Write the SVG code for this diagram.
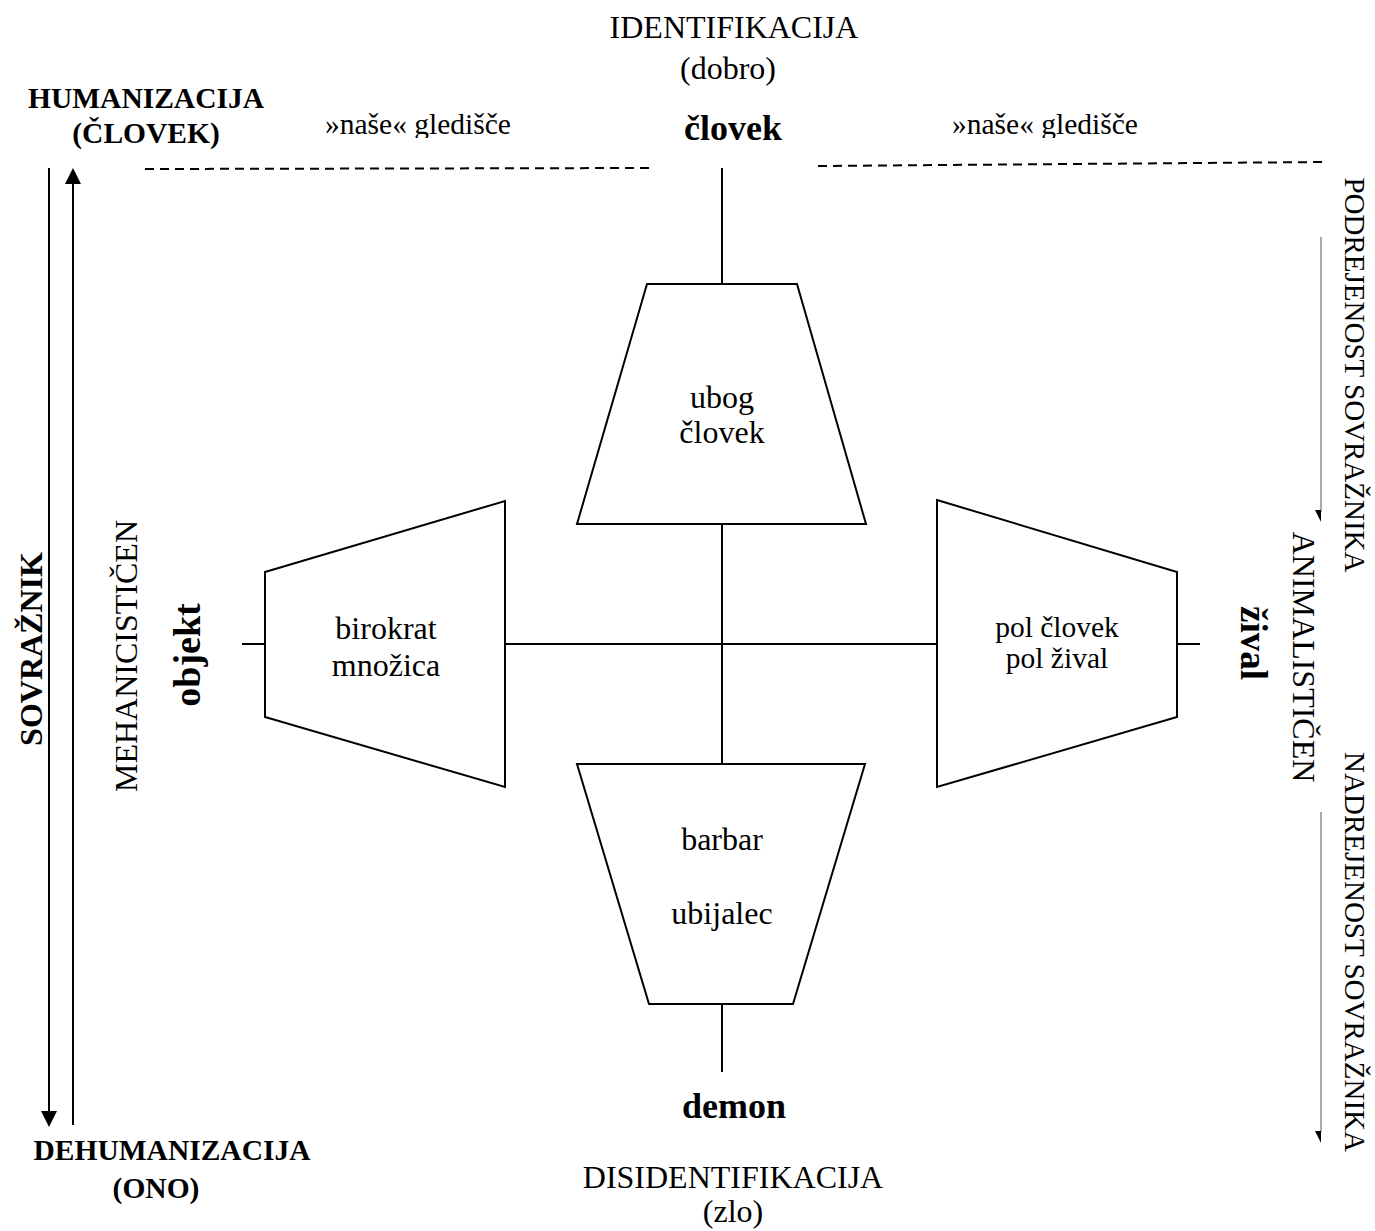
<svg xmlns="http://www.w3.org/2000/svg" width="1375" height="1231" viewBox="0 0 1375 1231">
<style>
text{font-family:"Liberation Serif","Times New Roman",serif;fill:#000}
.r{font-size:32px}
.rv{font-size:29px}
.rs{font-size:29.5px}
.b{font-size:29.5px;font-weight:bold}
.bw{font-size:36px;font-weight:bold}
.m{text-anchor:middle}
.shape{fill:#fff;stroke:#000;stroke-width:2}
.ln{stroke:#000;stroke-width:2;fill:none}
.thin{stroke:#555;stroke-width:1;fill:none}
.dash{stroke:#000;stroke-width:2;stroke-dasharray:9 6;fill:none}
</style>
<defs>
<clipPath id="clipTop"><rect x="0" y="0" width="1375" height="138"/></clipPath>
</defs>
<g id="connectors">
<line class="ln" x1="722" y1="168" x2="722" y2="284"/>
<line class="ln" x1="722" y1="524" x2="722" y2="764"/>
<line class="ln" x1="722" y1="1004" x2="722" y2="1072"/>
<line class="ln" x1="242" y1="644" x2="265" y2="644"/>
<line class="ln" x1="505" y1="644" x2="937" y2="644"/>
<line class="ln" x1="1177" y1="644" x2="1200" y2="644"/>
<line class="dash" x1="145" y1="169" x2="650" y2="168"/>
<line class="dash" x1="818" y1="166" x2="1325" y2="162"/>
<line class="ln" x1="49" y1="168" x2="49" y2="1112"/>
<polygon points="41,1111 57,1111 49,1127" fill="#000"/>
<line class="ln" x1="73" y1="183" x2="73" y2="1125"/>
<polygon points="65,184 81,184 73,168" fill="#000"/>
<line class="thin" x1="1321" y1="237" x2="1321" y2="512"/>
<polygon points="1315,510 1321,510 1321,522" fill="#000"/>
<line class="thin" x1="1321" y1="812" x2="1321" y2="1132"/>
<polygon points="1315,1131 1321,1131 1321,1143" fill="#000"/>
</g>
<g id="node-top">
<polygon class="shape" points="647,284 797,284 866,524 577,524"/>
<text class="r m" x="722" y="408">ubog</text>
<text class="r m" x="722" y="443">človek</text>
</g>
<g id="node-bottom">
<polygon class="shape" points="577,764 865,764 793,1004 649,1004"/>
<text class="r m" x="722" y="850">barbar</text>
<text class="r m" x="722" y="924">ubijalec</text>
</g>
<g id="node-left">
<polygon class="shape" points="265,572 505,501 505,787 265,717"/>
<text class="r m" x="386" y="639">birokrat</text>
<text class="r m" x="386" y="676">množica</text>
</g>
<g id="node-right">
<polygon class="shape" points="937,500 1177,572 1177,717 937,787"/>
<text class="rs m" x="1057" y="637">pol človek</text>
<text class="rs m" x="1057" y="668">pol žival</text>
</g>
<g id="labels">
<text class="r m" x="734" y="38">IDENTIFIKACIJA</text>
<text class="r m" x="728" y="79">(dobro)</text>
<text class="bw m" x="733" y="140">človek</text>
<g clip-path="url(#clipTop)">
<text class="rs" x="325" y="134">»naše« gledišče</text>
<text class="rs" x="952" y="134">»naše« gledišče</text>
</g>
<text class="b m" x="146" y="108">HUMANIZACIJA</text>
<text class="b m" x="146" y="143">(ČLOVEK)</text>
<text class="b m" x="172" y="1160">DEHUMANIZACIJA</text>
<text class="b m" x="156" y="1198">(ONO)</text>
<text class="bw m" x="734" y="1118">demon</text>
<text class="r m" x="733" y="1188">DISIDENTIFIKACIJA</text>
<text class="r m" x="733" y="1222">(zlo)</text>
<text class="b m" style="font-size:32px" transform="translate(42,649) rotate(-90)">SOVRAŽNIK</text>
<text class="r m" transform="translate(137,656) rotate(-90)">MEHANICISTIČEN</text>
<text class="bw m" style="font-size:38px" transform="translate(200,655) rotate(-90)">objekt</text>
<text class="bw m" style="font-size:37px" transform="translate(1241,643) rotate(90)">žival</text>
<text class="r m" transform="translate(1293,657) rotate(90)">ANIMALISTIČEN</text>
<text class="rv m" transform="translate(1345,375) rotate(90)">PODREJENOST SOVRAŽNIKA</text>
<text class="rv m" transform="translate(1345,952) rotate(90)">NADREJENOST SOVRAŽNIKA</text>
</g>
</svg>
